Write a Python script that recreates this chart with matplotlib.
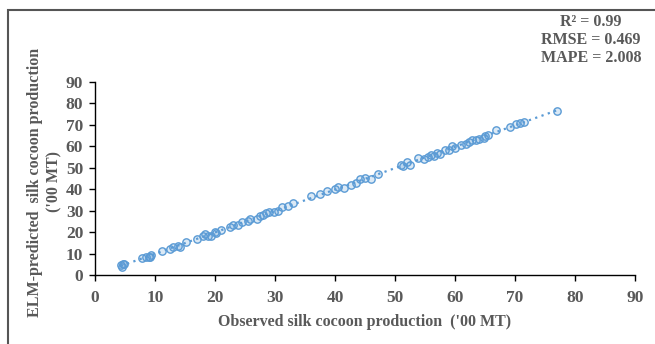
import matplotlib
matplotlib.use("Agg")
import matplotlib.pyplot as plt
import numpy as np
from matplotlib.patches import Rectangle

observed = [4.3, 4.5, 4.7, 4.9, 7.8, 8.5, 9.0, 9.3, 9.2,
            11.2, 12.5, 13.0, 13.8, 14.2, 15.2,
            17.0, 18.0, 18.3, 18.8, 19.3, 20.0, 20.2, 21.0,
            22.5, 23.0, 23.8, 24.5, 25.5, 25.8, 27.0, 27.5, 28.0, 28.5, 29.0, 29.8,
            30.5, 31.2, 32.2, 33.0,
            36.0, 37.5, 38.7, 40.0, 40.5, 41.5, 42.7, 43.5, 44.2, 45.0, 46.0, 47.2,
            51.0, 51.3, 52.0, 52.5, 53.8, 54.8, 55.5, 56.0, 56.5, 57.0, 57.5, 58.3,
            59.0, 59.5, 60.0, 61.0, 61.8, 62.3, 62.8, 63.5, 64.0, 64.8, 65.0, 65.5,
            66.8, 69.2, 70.2, 70.8, 71.5, 77.0]
predicted = [4.5, 3.5, 5.0, 5.2, 8.0, 8.5, 8.5, 9.5, 8.3,
             11.0, 12.0, 13.0, 13.5, 13.2, 15.5,
             17.0, 18.0, 19.0, 18.0, 18.3, 20.0, 19.5, 21.0,
             22.5, 23.5, 23.5, 24.5, 25.0, 26.0, 26.0, 27.5, 28.0, 28.8, 29.5, 29.5,
             30.0, 31.5, 32.0, 33.5,
             37.0, 37.8, 39.0, 40.0, 41.0, 40.5, 42.0, 43.0, 45.0, 45.2, 45.0, 47.0,
             51.5, 51.0, 52.5, 51.5, 54.5, 54.0, 55.0, 56.0, 55.5, 57.0, 56.5, 58.5,
             58.5, 60.0, 59.0, 60.5, 61.0, 62.0, 63.0, 62.8, 63.5, 64.0, 65.0, 65.5,
             67.5, 69.0, 70.5, 71.0, 71.5, 76.5]

ticks = [0, 10, 20, 30, 40, 50, 60, 70, 80, 90]
stats_text = "R² = 0.99\nRMSE = 0.469\nMAPE = 2.008"

plt.rcParams['font.family'] = ['Liberation Serif', 'DejaVu Serif']
gray = '#595959'
blue = '#5B9BD5'

fig = plt.figure(figsize=(6.55, 3.44), dpi=100)
ax = fig.add_axes([95/655, 1-275/344, 540/655, 193/344])

x = np.array(observed)
y = np.array(predicted)
coef = np.polyfit(x, y, 1)
xs = np.array([x.min(), x.max()])
ax.plot(xs, np.polyval(coef, xs), linestyle=(0, (1, 2)), color=blue, lw=1.6, zorder=1)
ax.scatter(x, y, s=28, facecolor=(0.357, 0.608, 0.835, 0.22), edgecolor=blue, lw=1.0, zorder=2)

ax.set_xlim(0, 90)
ax.set_ylim(0, 90)
ax.set_xticks(ticks)
ax.set_yticks(ticks)
for s in ['top', 'right']:
    ax.spines[s].set_visible(False)
for s in ['left', 'bottom']:
    ax.spines[s].set_color('#000000')
    ax.spines[s].set_linewidth(1.0)
ax.tick_params(direction='out', length=4.5, width=1.0, colors='#000000', labelcolor=gray,
               labelsize=12.5)
ax.tick_params(axis='x', pad=6)
ax.tick_params(axis='y', pad=4)
for lab in ax.get_xticklabels() + ax.get_yticklabels():
    lab.set_fontweight('bold')

ax.set_xlabel("Observed silk cocoon production  ('00 MT)", fontsize=11.5, fontweight='bold',
              color=gray, labelpad=6)
ax.set_ylabel("ELM-predicted  silk cocoon production\n('00 MT)", fontsize=11.5,
              fontweight='bold', color=gray, linespacing=1.25)
ax.yaxis.label.set_va('center')
ax.yaxis.label.set_ha('center')
ax.yaxis.set_label_coords((45 - 95) / 540, (275 - 182) / 193)

fig.text(591/655, 1-40/344, stats_text, ha='center', va='center', fontsize=11.5,
         fontweight='bold', color=gray, linespacing=1.15)

fig.patches.append(Rectangle((8/655, -0.05), 1.1, 0.05 + 1 - 10/344, transform=fig.transFigure,
                             fill=False, edgecolor='#555555', lw=1.5, clip_on=False))

fig.savefig("out.png", dpi=100)
